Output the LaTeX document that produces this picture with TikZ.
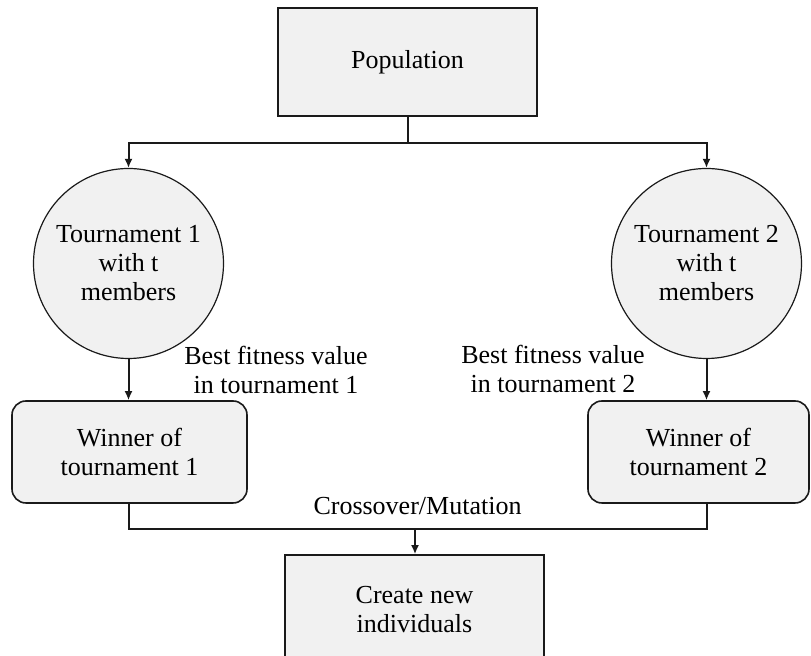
\documentclass[tikz,border=0pt]{standalone}
\usepackage{fontspec}
\setmainfont{Liberation Serif}
\usetikzlibrary{positioning,arrows.meta}
\definecolor{boxfill}{HTML}{F1F1F1}
\definecolor{linedrk}{HTML}{1A1A1A}

\begin{document}
\begin{tikzpicture}[x=0.5pt, y=-0.5pt, font=\fontsize{13}{14.5}\selectfont,
	block/.style={rectangle, draw=linedrk, fill=boxfill, line width=0.8pt, inner sep=0pt, align=center},
	tourn/.style={circle, draw=linedrk, fill=boxfill, line width=0.6pt, minimum size=95pt, inner sep=0pt, align=center},
	conn/.style={linedrk, line width=1pt},
	arr/.style={conn, -{Latex[length=4.5pt, width=4pt]}},
	lbl/.style={align=center, inner sep=0pt}]
	\useasboundingbox (0,0) rectangle (811,656);
	\clip (0,0) rectangle (811,656);

	\node[block, minimum width=129.5pt, minimum height=54pt] (pop) at (407.5,62) {Population};
	\node[tourn] (t1) at (128.5,263.5) {Tournament 1\\with t\\members};
	\node[tourn] (t2) at (706.5,263.5) {Tournament 2\\with t\\members};
	\node[block, rounded corners=7pt, minimum width=117.5pt, minimum height=51pt] (w1) at (129.5,452) {Winner of\\tournament 1};
	\node[block, rounded corners=7pt, minimum width=110.5pt, minimum height=51pt] (w2) at (698.5,452) {Winner of\\tournament 2};
	\node[block, minimum width=129.5pt, minimum height=55pt] (new) at (414.5,610) {Create new\\individuals};

	\node[lbl] (bf1) at (276,370) {Best fitness value\\in tournament 1};
	\node[lbl] (bf2) at (553,369) {Best fitness value\\in tournament 2};
	\node[lbl, anchor=base] (cm) at (417.5,515) {Crossover/Mutation};

	\coordinate (split) at (407.5,143);
	\coordinate (join) at (415,529);

	\draw[conn] (pop) -- (split);
	\draw[arr] (split) -| (t1);
	\draw[arr] (split) -| (t2);
	\draw[arr] (t1.south) -- (t1.south |- w1.north);
	\draw[arr] (t2.south) -- (t2.south |- w2.north);
	\draw[conn] (t1.south |- w1.south) |- (join) -| (t2.south |- w2.south);
	\draw[arr] (join) -- (join |- new.north);
\end{tikzpicture}
\end{document}
